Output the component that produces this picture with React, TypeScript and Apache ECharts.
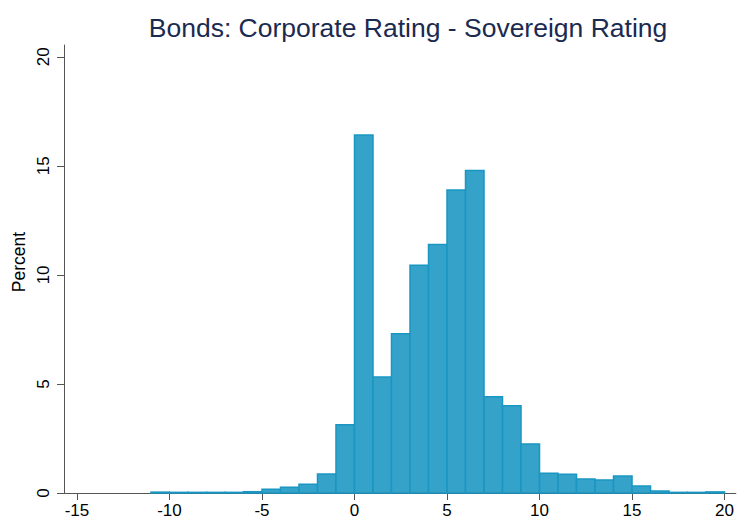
import React, { useEffect, useRef } from "react";
import * as echarts from "echarts";

const binStarts = [-11, -10, -9, -8, -7, -6, -5, -4, -3, -2, -1, 0, 1, 2, 3, 4, 5, 6, 7, 8, 9, 10, 11, 12, 13, 14, 15, 16, 17, 18, 19];
const percents = [0.04, 0.03, 0.03, 0.03, 0.03, 0.06, 0.17, 0.26, 0.4, 0.87, 3.13, 16.41, 5.32, 7.3, 10.44, 11.39, 13.89, 14.79, 4.41, 4.0, 2.25, 0.9, 0.86, 0.64, 0.6, 0.78, 0.32, 0.09, 0.03, 0.03, 0.05];
const binWidth = 1;
const xTicks = [-15, -10, -5, 0, 5, 10, 15, 20];
const yTicks = [0, 5, 10, 15, 20];
const titleText = "Bonds: Corporate Rating - Sovereign Rating";
const yName = "Percent";

const FONT = "Liberation Sans, Arial, sans-serif";

export default function App() {
  const ref = useRef<HTMLDivElement>(null);
  useEffect(() => {
    if (!ref.current) return;
    const chart = echarts.init(ref.current, null, { renderer: "svg" });
    const data = binStarts.map((s, i) => [s, s + binWidth, percents[i]]);
    chart.setOption({
      animation: false,
      backgroundColor: "#ffffff",
      textStyle: { fontFamily: FONT },
      title: {
        text: titleText,
        left: 403,
        textAlign: "center",
        top: 9,
        textStyle: { color: "#1a2a50", fontSize: 26.5, fontWeight: "normal", fontFamily: FONT },
      },
      graphic: [
        {
          type: "text",
          x: 19,
          y: 262,
          rotation: Math.PI / 2,
          style: { text: yName, fill: "#000000", fontSize: 17.5, fontFamily: FONT, textAlign: "center", textVerticalAlign: "middle" },
        },
      ],
      grid: { left: 64, right: 0, top: 45, bottom: 28 },
      xAxis: {
        type: "value",
        min: -15.7,
        max: 20.61,
        splitLine: { show: false },
        axisLine: { show: true, onZero: false, lineStyle: { color: "#555555", width: 1 } },
        axisTick: { show: true, length: 7, lineStyle: { color: "#555555" }, customValues: xTicks },
        axisLabel: {
          color: "#000000",
          fontSize: 17,
          margin: 9,
          customValues: xTicks,
        },
      },
      yAxis: {
        type: "value",
        min: 0,
        max: 20.54,
        splitLine: { show: false },
        axisLine: { show: true, onZero: false, lineStyle: { color: "#555555", width: 1 } },
        axisTick: { show: true, length: 7, lineStyle: { color: "#555555" }, customValues: yTicks },
        axisLabel: {
          color: "#000000",
          fontSize: 17,
          rotate: 90,
          margin: 12,
          customValues: yTicks,
        },
      },
      series: [
        {
          type: "custom",
          data: data,
          encode: { x: [0, 1], y: 2 },
          renderItem: (params: any, api: any) => {
            const p0 = api.coord([api.value(0), 0]);
            const p1 = api.coord([api.value(1), api.value(2)]);
            return {
              type: "rect",
              shape: { x: p0[0], y: p1[1], width: p1[0] - p0[0], height: p0[1] - p1[1] },
              style: { fill: "#35a2ca", stroke: "#1a96c2", lineWidth: 1.5 },
            };
          },
        },
      ],
    });
    return () => chart.dispose();
  }, []);
  return <div ref={ref} style={{ width: 737, height: 521, position: "absolute", left: 0, top: 0 }} />;
}
